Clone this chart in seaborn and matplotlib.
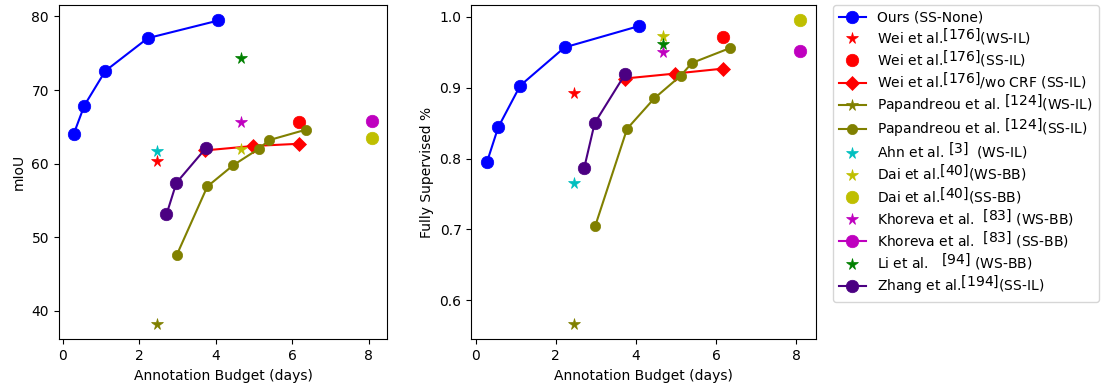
import numpy as np
import pandas as pd
import matplotlib
matplotlib.use("Agg")
import matplotlib.pyplot as plt
import seaborn as sns

# ---------------- data ----------------
ours_x = [0.28, 0.56, 1.11, 2.22, 4.07]
ours_miou = [64.0, 67.9, 72.6, 77.05, 79.45]
ours_fs = [0.795, 0.844, 0.903, 0.957, 0.987]

wei_ws_x = [2.46]
wei_ws_miou = [60.4]
wei_ws_fs = [0.893]

wei_ss_x = [6.18]
wei_ss_miou = [65.7]
wei_ss_fs = [0.971]

wei_nocrf_x = [3.72, 4.98, 6.18]
wei_nocrf_miou = [61.8, 62.4, 62.7]
wei_nocrf_fs = [0.913, 0.920, 0.927]

pap_ws_x = [2.46]
pap_ws_miou = [38.2]
pap_ws_fs = [0.566]

pap_ss_x = [2.98, 3.78, 4.46, 5.12, 5.40, 6.35]
pap_ss_miou = [47.6, 56.9, 59.8, 62.0, 63.2, 64.6]
pap_ss_fs = [0.704, 0.842, 0.885, 0.917, 0.935, 0.956]

ahn_x = [2.46]
ahn_miou = [61.7]
ahn_fs = [0.765]

dai_ws_x = [4.67]
dai_ws_miou = [62.0]
dai_ws_fs = [0.973]

dai_ss_x = [8.10]
dai_ss_miou = [63.5]
dai_ss_fs = [0.995]

kho_ws_x = [4.67]
kho_ws_miou = [65.7]
kho_ws_fs = [0.951]

kho_ss_x = [8.10]
kho_ss_miou = [65.8]
kho_ss_fs = [0.952]

li_x = [4.67]
li_miou = [74.3]
li_fs = [0.962]

zhang_x = [2.71, 2.97, 3.74]
zhang_miou = [53.1, 57.4, 62.1]
zhang_fs = [0.787, 0.850, 0.920]


def sup(ref):
    # full-size, slightly raised citation number
    return r"$\substack{[" + ref + r"]\\\,}$"


labels = [
    "Ours (SS-None)",
    "Wei et al." + sup("176") + "(WS-IL)",
    "Wei et al." + sup("176") + "(SS-IL)",
    "Wei et al." + sup("176") + "/wo CRF (SS-IL)",
    "Papandreou et al. " + sup("124") + "(WS-IL)",
    "Papandreou et al. " + sup("124") + "(SS-IL)",
    "Ahn et al. " + sup("3") + "  (WS-IL)",
    "Dai et al." + sup("40") + "(WS-BB)",
    "Dai et al." + sup("40") + "(SS-BB)",
    "Khoreva et al.  " + sup("83") + " (WS-BB)",
    "Khoreva et al.  " + sup("83") + " (SS-BB)",
    "Li et al.   " + sup("94") + " (WS-BB)",
    "Zhang et al." + sup("194") + "(SS-IL)",
]

# (x, miou, fs, color, marker, markersize, linestyle)
series = [
    (ours_x, ours_miou, ours_fs, "#0000ff", "o", 9, "-"),
    (wei_ws_x, wei_ws_miou, wei_ws_fs, "#ff0000", "*", 8.5, ""),
    (wei_ss_x, wei_ss_miou, wei_ss_fs, "#ff0000", "o", 9, ""),
    (wei_nocrf_x, wei_nocrf_miou, wei_nocrf_fs, "#ff0000", "D", 7, "-"),
    (pap_ws_x, pap_ws_miou, pap_ws_fs, "#808000", "*", 8.5, "-"),
    (pap_ss_x, pap_ss_miou, pap_ss_fs, "#808000", "o", 7.4, "-"),
    (ahn_x, ahn_miou, ahn_fs, "#00bfbf", "*", 8.5, ""),
    (dai_ws_x, dai_ws_miou, dai_ws_fs, "#bfbf00", "*", 8.5, ""),
    (dai_ss_x, dai_ss_miou, dai_ss_fs, "#bfbf00", "o", 9, ""),
    (kho_ws_x, kho_ws_miou, kho_ws_fs, "#bf00bf", "*", 8.5, ""),
    (kho_ss_x, kho_ss_miou, kho_ss_fs, "#bf00bf", "o", 9, "-"),
    (li_x, li_miou, li_fs, "#008000", "*", 8.5, ""),
    (zhang_x, zhang_miou, zhang_fs, "#4b0082", "o", 9, "-"),
]

plt.rcParams["font.family"] = ["DejaVu Sans"]
plt.rcParams["font.size"] = 10

fig = plt.figure(figsize=(11.14, 3.9), dpi=100)
ax1 = fig.add_axes([0.0527, 0.130, 0.2950, 0.8564])
ax2 = fig.add_axes([0.4231, 0.130, 0.3091, 0.8564])

for ax, key in ((ax1, 1), (ax2, 2)):
    for (xs, m, f, col, mk, ms, ls), lab in zip(series, labels):
        ys = m if key == 1 else f
        df = pd.DataFrame({"x": xs, "y": ys})
        sns.lineplot(data=df, x="x", y="y", ax=ax, color=col, marker=mk,
                     markersize=ms, markeredgecolor=col, markeredgewidth=0.5,
                     linestyle=ls, linewidth=1.5, estimator=None, sort=False,
                     label=lab, legend=False)
    ax.set_xlabel("Annotation Budget (days)")
    if ax.get_legend() is not None:
        ax.get_legend().remove()

ax1.set_ylabel("mIoU")
ax2.set_ylabel("Fully Supervised %")
ax1.set_xticks([0, 2, 4, 6, 8])
ax2.set_xticks([0, 2, 4, 6, 8])
ax1.set_yticks([40, 50, 60, 70, 80])
ax2.set_yticks([0.6, 0.7, 0.8, 0.9, 1.0])

handles, labs = ax2.get_legend_handles_labels()
fig.legend(handles, labs, loc="upper left",
           bbox_to_anchor=(833 / 1114, 1 - 5 / 390), borderaxespad=0,
           fontsize=10, frameon=True, labelspacing=0.1)

fig.savefig("out.png", dpi=100)
